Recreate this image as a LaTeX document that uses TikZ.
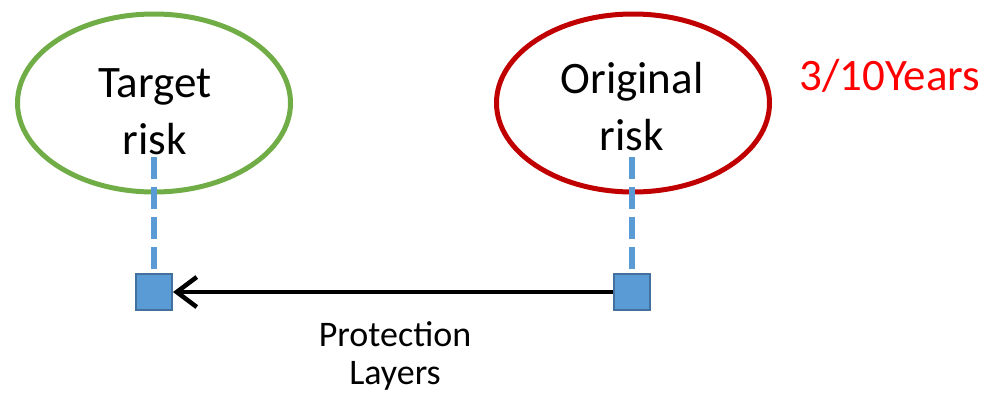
\documentclass[tikz,border=0pt]{standalone}
\usepackage{fontspec}
\setmainfont{Carlito}
\usetikzlibrary{shapes.geometric,arrows.meta}
\definecolor{riskgreen}{HTML}{70AD47}
\definecolor{riskred}{HTML}{C00000}
\definecolor{markblue}{HTML}{5B9BD5}
\definecolor{markedge}{HTML}{41719C}
\definecolor{freqred}{HTML}{FF0000}
\tikzset{
  riskoval/.style={ellipse, line width=5pt, minimum width=273pt, minimum height=178pt, inner sep=0pt},
  risktext/.style={align=center, font=\fontsize{45}{57}\selectfont, inner sep=0pt},
  marker/.style={rectangle, fill=markblue, draw=markedge, line width=2pt, minimum size=36pt, inner sep=0pt},
  leader/.style={markblue, line width=6pt, dash pattern=on 22pt off 8pt},
  transfer/.style={line width=4.5pt, -{Straight Barb[length=20pt, width=30pt]}},
}
\begin{document}
\begin{tikzpicture}[x=1pt, y=-1pt]
  \useasboundingbox (0,0) rectangle (994,397);

  % the two risk levels
  \node[riskoval, draw=riskgreen] (target) at (154,103) {};
  \node[riskoval, draw=riskred] (original) at (633,103) {};
  \node[risktext] (targettxt) at (155,112) {Target\\risk};
  \node[risktext] (origtxt) at (632,107) {Original\\risk};

  % frequency of the original risk
  \node[font=\fontsize{45}{54}\selectfont, text=freqred, anchor=west, inner sep=0pt] (freq) at (799,76) {3/10Years};

  % markers on the risk scale
  \node[marker] (tmark) at (154,292) {};
  \node[marker] (omark) at (632,292) {};

  % dashed leaders from the ovals down to the markers
  \coordinate (tstart) at (154,157);
  \coordinate (ostart) at (632,157);
  \draw[leader] (tstart) -- (tmark.north);
  \draw[leader] (ostart) -- (omark.north);

  % reduction by the protection layers
  \draw[transfer] (omark.west) -- (tmark.east);
  \node[align=center, font=\fontsize{36}{38}\selectfont, inner sep=0pt] (layers) at (395,356) {Protection\\Layers};
\end{tikzpicture}
\end{document}
